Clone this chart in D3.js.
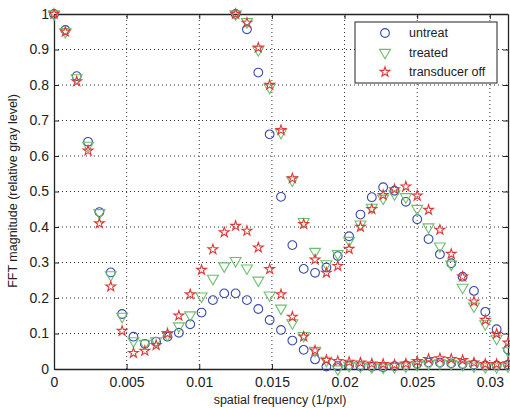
<!DOCTYPE html>
<html>
<head>
<meta charset="utf-8">
<script src="https://cdn.jsdelivr.net/npm/d3@7"></script>
<style>
  body { margin: 0; background: #fff; }
  svg text { font-family: "Liberation Sans", Arial, sans-serif; fill: #222; }
</style>
</head>
<body>
<svg id="chart" width="510" height="408"></svg>
<script>
// frequency bin spacing (1/pxl); low curve starts at bin 0, high curve at bin 16
const FREQ_STEP = 1 / 1280;
const HIGH_START = 16;

const xTicks = [0, 0.005, 0.01, 0.015, 0.02, 0.025, 0.03];
const yTicks = [0, 0.1, 0.2, 0.3, 0.4, 0.5, 0.6, 0.7, 0.8, 0.9, 1];

const untreatLow = [1.0, 0.955, 0.825, 0.64, 0.442, 0.272, 0.155, 0.091, 0.071, 0.077, 0.091, 0.102, 0.126,
  0.159, 0.194, 0.213, 0.213, 0.194, 0.169, 0.138, 0.11, 0.08, 0.054, 0.027,
  0.007, 0.008, 0.01, 0.008, 0.006, 0.005, 0.008, 0.01, 0.015, 0.018, 0.018, 0.016, 0.014, 0.012, 0.01, 0.01, 0.012];
const treatedLow = [1.0, 0.95, 0.82, 0.63, 0.44, 0.265, 0.148, 0.079, 0.072, 0.079, 0.096, 0.121, 0.152,
  0.205, 0.255, 0.29, 0.305, 0.284, 0.25, 0.208, 0.171, 0.13, 0.094, 0.052,
  0.024, 0.0, 0.01, 0.008, 0.006, 0.005, 0.006, 0.008, 0.012, 0.015, 0.017, 0.015, 0.012, 0.008, 0.006, 0.006, 0.008];
const offLow = [1.0, 0.95, 0.81, 0.615, 0.41, 0.232, 0.107, 0.045, 0.051, 0.067, 0.1, 0.15, 0.21,
  0.279, 0.337, 0.385, 0.403, 0.389, 0.342, 0.281, 0.21, 0.147, 0.091, 0.052,
  0.025, 0.022, 0.02, 0.018, 0.015, 0.014, 0.012, 0.015, 0.022, 0.028, 0.03, 0.028, 0.025, 0.018, 0.014, 0.014, 0.016];

const untreatHigh = [1.0, 0.957, 0.835, 0.661, 0.485, 0.349, 0.282, 0.271, 0.286, 0.318, 0.374, 0.435, 0.484,
  0.512, 0.502, 0.471, 0.422, 0.366, 0.323, 0.298, 0.26, 0.22, 0.161, 0.112, 0.055];
const treatedHigh = [1.0, 0.978, 0.899, 0.793, 0.666, 0.532, 0.415, 0.331, 0.296, 0.325, 0.362, 0.408, 0.455,
  0.481, 0.493, 0.485, 0.452, 0.4, 0.346, 0.295, 0.23, 0.177, 0.127, 0.086, 0.051];
const offHigh = [1.0, 0.975, 0.905, 0.8, 0.673, 0.537, 0.408, 0.308, 0.271, 0.29, 0.338, 0.4, 0.45,
  0.49, 0.506, 0.514, 0.488, 0.448, 0.392, 0.324, 0.26, 0.19, 0.138, 0.099, 0.074];

const seriesNames = ["untreat", "treated", "transducer off"];

function toPoints(values, start) {
  return values.map((v, i) => ({ f: (start + i) * FREQ_STEP, v }));
}

const series = [
  { name: seriesNames[0], color: "#3b4ba8", symbol: d3.symbolCircle, size: 60, rotate: 0,
    points: toPoints(untreatLow, 0).concat(toPoints(untreatHigh, HIGH_START)) },
  { name: seriesNames[1], color: "#6cc06c", symbol: d3.symbolTriangle, size: 52, rotate: 180,
    points: toPoints(treatedLow, 0).concat(toPoints(treatedHigh, HIGH_START)) },
  { name: seriesNames[2], color: "#e0393a", symbol: d3.symbolStar, size: 30, rotate: 0,
    points: toPoints(offLow, 0).concat(toPoints(offHigh, HIGH_START)) }
];

const margin = { top: 14, right: 2, bottom: 39, left: 54 };
const width = 510, height = 408;

const svg = d3.select("#chart");

const x = d3.scaleLinear()
  .domain([0, 1 / 32])
  .range([margin.left, width - margin.right]);

const y = d3.scaleLinear()
  .domain([0, 1])
  .range([height - margin.bottom, margin.top]);

// dotted grid
const grid = svg.append("g").attr("stroke", "#333").attr("stroke-dasharray", "1,3").attr("stroke-width", 1);
xTicks.filter(t => t > 0).forEach(t => {
  grid.append("line")
    .attr("x1", x(t)).attr("x2", x(t))
    .attr("y1", y(0)).attr("y2", y(1));
});
yTicks.filter(t => t > 0 && t < 1).forEach(t => {
  grid.append("line")
    .attr("x1", x(0)).attr("x2", x(1 / 32))
    .attr("y1", y(t)).attr("y2", y(t));
});

// axes with inward ticks, MATLAB style box
const fmt = d => d === 0 ? "0" : d3.format("~g")(d);

const xAxis = svg.append("g")
  .attr("transform", `translate(0,${y(0)})`)
  .call(d3.axisBottom(x).tickValues(xTicks).tickFormat(fmt).tickSizeInner(-5).tickSizeOuter(0).tickPadding(8));
const xAxisTop = svg.append("g")
  .attr("transform", `translate(0,${y(1)})`)
  .call(d3.axisTop(x).tickValues(xTicks).tickFormat("").tickSizeInner(-5).tickSizeOuter(0));
const yAxis = svg.append("g")
  .attr("transform", `translate(${x(0)},0)`)
  .call(d3.axisLeft(y).tickValues(yTicks).tickFormat(fmt).tickSizeInner(-5).tickSizeOuter(0).tickPadding(5));
const yAxisRight = svg.append("g")
  .attr("transform", `translate(${x(1 / 32)},0)`)
  .call(d3.axisRight(y).tickValues(yTicks).tickFormat("").tickSizeInner(-5).tickSizeOuter(0));

[xAxis, xAxisTop, yAxis, yAxisRight].forEach(g => {
  g.select(".domain").attr("stroke", "#222").attr("stroke-width", 1.3);
  g.selectAll(".tick line").attr("stroke", "#222");
  g.selectAll(".tick text").attr("font-size", 14).attr("fill", "#222");
});

// markers
series.forEach(s => {
  const sym = d3.symbol().type(s.symbol).size(s.size);
  svg.append("g")
    .selectAll("path")
    .data(s.points)
    .join("path")
    .attr("d", sym)
    .attr("transform", d => `translate(${x(d.f)},${y(d.v)}) rotate(${s.rotate})`)
    .attr("fill", "none")
    .attr("stroke", s.color)
    .attr("stroke-width", 1.1);
});

// axis titles
svg.append("text")
  .attr("x", 280)
  .attr("y", 404)
  .attr("text-anchor", "middle")
  .attr("font-size", 12.5)
  .text("spatial frequency (1/pxl)");

svg.append("text")
  .attr("transform", "rotate(-90)")
  .attr("x", -191)
  .attr("y", 17)
  .attr("text-anchor", "middle")
  .attr("font-size", 12.5)
  .text("FFT magnitude (relative gray level)");

// legend
const legend = svg.append("g").attr("transform", "translate(355,22)");
legend.append("rect")
  .attr("width", 142).attr("height", 61)
  .attr("fill", "#fff").attr("stroke", "#222").attr("stroke-width", 1);

series.forEach((s, i) => {
  const row = legend.append("g").attr("transform", `translate(0,${11 + i * 19.5})`);
  row.append("path")
    .attr("d", d3.symbol().type(s.symbol).size(s.size)())
    .attr("transform", `translate(30,0) rotate(${s.rotate})`)
    .attr("fill", "none")
    .attr("stroke", s.color)
    .attr("stroke-width", 1.1);
  row.append("text")
    .attr("x", 54)
    .attr("dy", "0.35em")
    .attr("font-size", 12.5)
    .text(s.name);
});
</script>
</body>
</html>
